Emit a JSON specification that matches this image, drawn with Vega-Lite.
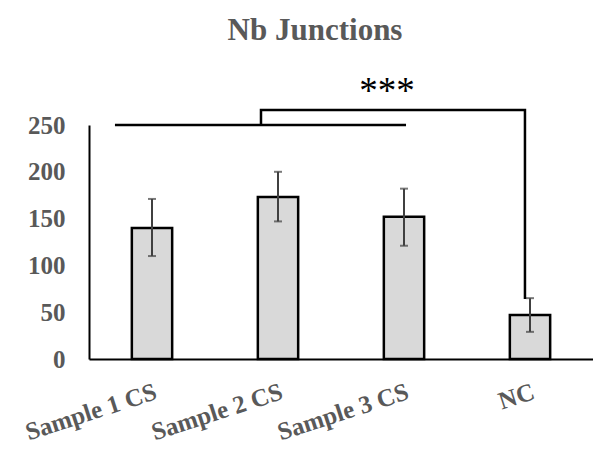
{
  "$schema": "https://vega.github.io/schema/vega-lite/v6.json",
  "autosize": "none",
  "width": 504,
  "height": 234,
  "padding": {"left": 89, "top": 125, "right": 0, "bottom": 91},
  "background": "white",
  "title": {
    "text": "Nb Junctions",
    "font": "Liberation Serif",
    "fontSize": 31,
    "fontWeight": "bold",
    "color": "#595959",
    "anchor": "middle",
    "offset": 26,
    "dx": -26
  },
  "config": {"view": {"stroke": null}},
  "datasets": {
    "bars": [
      {"cat": "Sample 1 CS", "value": 140, "lo": 110, "hi": 171},
      {"cat": "Sample 2 CS", "value": 173, "lo": 147, "hi": 200},
      {"cat": "Sample 3 CS", "value": 152, "lo": 121, "hi": 182},
      {"cat": "NC", "value": 47, "lo": 29, "hi": 65}
    ],
    "bracket": [
      {"order": 1, "px": 1.365, "py": 250},
      {"order": 2, "px": 1.365, "py": 266},
      {"order": 3, "px": 3.46, "py": 266},
      {"order": 4, "px": 3.46, "py": 64}
    ],
    "group": [
      {"px": 0.206, "px2": 2.516, "py": 250}
    ],
    "stars": [
      {"px": 2.365, "py": 285, "label": "***"}
    ]
  },
  "layer": [
    {
      "data": {"name": "bars"},
      "encoding": {
        "x": {
          "field": "cat",
          "type": "nominal",
          "sort": null,
          "scale": {"paddingInner": 0.68, "paddingOuter": 0.34},
          "axis": {
            "title": null,
            "labelAngle": -18,
            "labelAlign": "right",
            "labelBaseline": "top",
            "labelPadding": 20,
            "labelFont": "Liberation Serif",
            "labelFontSize": 25,
            "labelFontWeight": "bold",
            "labelColor": "#595959",
            "ticks": false,
            "domainColor": "#000000",
            "domainWidth": 2
          }
        }
      },
      "layer": [
        {
          "mark": {"type": "bar", "fill": "#d9d9d9", "stroke": "#000000", "strokeWidth": 2.5},
          "encoding": {
            "y": {
              "field": "value",
              "type": "quantitative",
              "scale": {"domain": [0, 250], "nice": false},
              "axis": {
                "title": null,
                "values": [0, 50, 100, 150, 200, 250],
                "grid": false,
                "ticks": false,
                "labelPadding": 24,
                "labelFont": "Liberation Serif",
                "labelFontSize": 25,
                "labelFontWeight": "bold",
                "labelColor": "#595959",
                "domainColor": "#000000",
                "domainWidth": 2
              }
            }
          }
        },
        {
          "mark": {"type": "rule", "color": "#404040", "strokeWidth": 2},
          "encoding": {
            "y": {"field": "lo", "type": "quantitative", "scale": {"domain": [0, 250], "nice": false}},
            "y2": {"field": "hi"}
          }
        },
        {
          "mark": {"type": "tick", "color": "#404040", "size": 8, "thickness": 2},
          "encoding": {
            "y": {"field": "lo", "type": "quantitative", "scale": {"domain": [0, 250], "nice": false}}
          }
        },
        {
          "mark": {"type": "tick", "color": "#404040", "size": 8, "thickness": 2},
          "encoding": {
            "y": {"field": "hi", "type": "quantitative", "scale": {"domain": [0, 250], "nice": false}}
          }
        }
      ]
    },
    {
      "layer": [
        {
          "data": {"name": "bracket"},
          "mark": {"type": "line", "color": "#000000", "strokeWidth": 2.5, "strokeJoin": "miter"},
          "encoding": {
            "x": {"field": "px", "type": "quantitative", "scale": {"domain": [0, 4], "nice": false, "zero": false}, "axis": null},
            "y": {"field": "py", "type": "quantitative", "scale": {"domain": [0, 250], "nice": false}},
            "order": {"field": "order"}
          }
        },
        {
          "data": {"name": "group"},
          "mark": {"type": "rule", "color": "#000000", "strokeWidth": 2.5},
          "encoding": {
            "x": {"field": "px", "type": "quantitative", "scale": {"domain": [0, 4], "nice": false, "zero": false}, "axis": null},
            "x2": {"field": "px2"},
            "y": {"field": "py", "type": "quantitative", "scale": {"domain": [0, 250], "nice": false}}
          }
        },
        {
          "data": {"name": "stars"},
          "mark": {"type": "text", "font": "Liberation Serif", "fontSize": 37, "color": "#000000", "align": "center", "baseline": "middle"},
          "encoding": {
            "x": {"field": "px", "type": "quantitative", "scale": {"domain": [0, 4], "nice": false, "zero": false}, "axis": null},
            "y": {"field": "py", "type": "quantitative", "scale": {"domain": [0, 250], "nice": false}},
            "text": {"field": "label"}
          }
        }
      ]
    }
  ],
  "resolve": {"scale": {"x": "independent"}, "axis": {"x": "independent"}}
}
